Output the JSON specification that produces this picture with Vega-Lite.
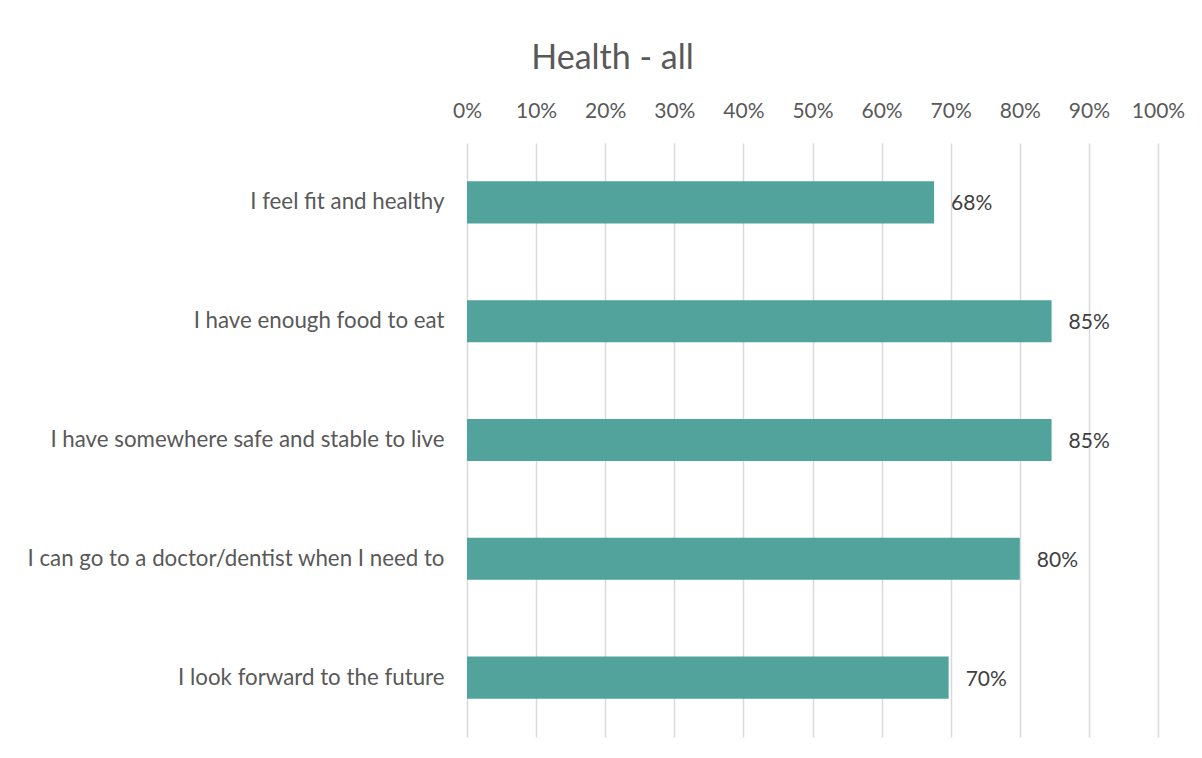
{
  "$schema": "https://vega.github.io/schema/vega-lite/v6.json",
  "width": 691,
  "height": 594,
  "autosize": "none",
  "padding": {"left": 467, "top": 143, "right": 44, "bottom": 21},
  "background": "white",
  "title": {
    "text": "Health - all",
    "anchor": "middle",
    "frame": "group",
    "dx": -200,
    "offset": 7,
    "baseline": "middle",
    "font": "Lato",
    "fontSize": 34,
    "fontWeight": "normal",
    "color": "#595959"
  },
  "data": {
    "values": [
      {"item": "I feel fit and healthy", "pct": 0.676},
      {"item": "I have enough food to eat", "pct": 0.846},
      {"item": "I have somewhere safe and stable to live", "pct": 0.846},
      {"item": "I can go to a doctor/dentist when I need to", "pct": 0.80},
      {"item": "I look forward to the future", "pct": 0.697}
    ]
  },
  "encoding": {
    "y": {
      "field": "item",
      "type": "nominal",
      "sort": null,
      "title": null,
      "scale": {"paddingInner": 0.646, "paddingOuter": 0.323},
      "axis": {
        "domain": false,
        "ticks": false,
        "labelPadding": 23,
        "labelFont": "Lato",
        "labelFontSize": 22.3,
        "labelColor": "#595959",
        "labelLimit": 500
      }
    },
    "x": {
      "field": "pct",
      "type": "quantitative",
      "title": null,
      "scale": {"domain": [0, 1], "nice": false},
      "axis": {
        "orient": "top",
        "format": ".0%",
        "values": [0, 0.1, 0.2, 0.3, 0.4, 0.5, 0.6, 0.7, 0.8, 0.9, 1],
        "labelOverlap": false,
        "domain": false,
        "ticks": false,
        "grid": true,
        "gridColor": "#d9d9d9",
        "gridWidth": 1.5,
        "labelPadding": 22,
        "labelFont": "Lato",
        "labelFontSize": 21,
        "labelColor": "#595959",
        "labelFlush": false
      }
    }
  },
  "layer": [
    {"mark": {"type": "bar", "color": "#51A39B"}},
    {
      "mark": {"type": "text", "align": "left", "dx": 17, "dy": 2, "font": "Lato", "fontSize": 21, "color": "#404040"},
      "encoding": {"text": {"field": "pct", "type": "quantitative", "format": ".0%"}}
    }
  ],
  "config": {"view": {"stroke": null}}
}
